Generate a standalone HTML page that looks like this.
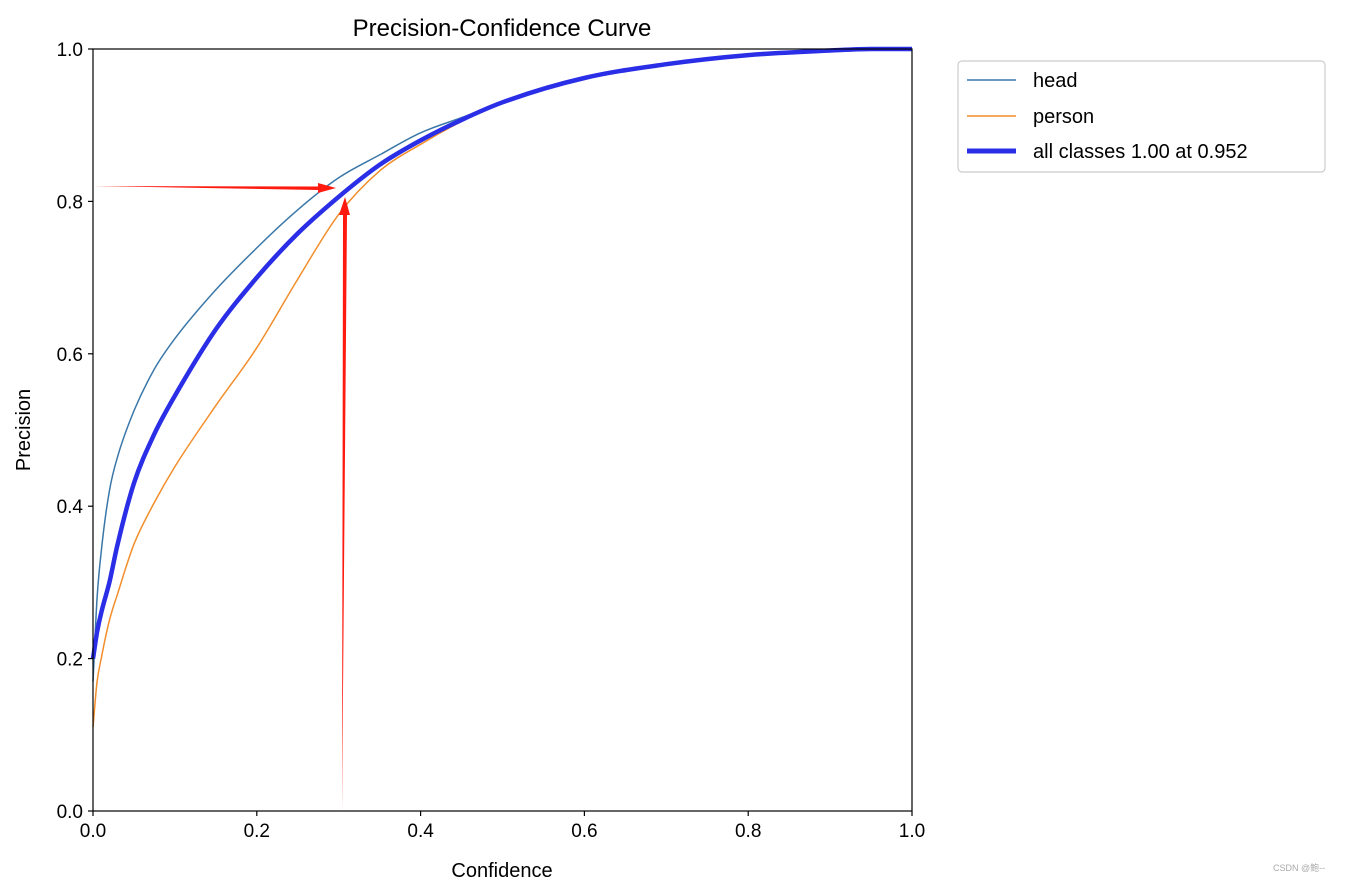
<!DOCTYPE html>
<html><head><meta charset="utf-8"><style>
body{margin:0;background:#fff;}
svg text{font-family:"Liberation Sans","DejaVu Sans",sans-serif;}
</style></head><body>
<svg width="1345" height="882" viewBox="0 0 1345 882" xmlns="http://www.w3.org/2000/svg">
<g id="plot"></g>
</svg>
<script>
const confidence=[0,0.005,0.01,0.02,0.03,0.05,0.075,0.1,0.15,0.2,0.25,0.3,0.35,0.4,0.45,0.5,0.6,0.7,0.8,0.9,0.95,1.0];
const headValues=[0.17,0.28,0.34,0.42,0.465,0.525,0.58,0.62,0.684,0.739,0.789,0.831,0.861,0.89,0.91,0.93,0.962,0.98,0.992,0.998,1.0,1.0];
const personValues=[0.11,0.17,0.2,0.25,0.285,0.35,0.405,0.452,0.532,0.608,0.698,0.783,0.84,0.875,0.905,0.93,0.962,0.98,0.992,0.998,1.0,1.0];
const allValues=[0.2,0.235,0.26,0.3,0.35,0.43,0.495,0.545,0.632,0.7,0.758,0.806,0.848,0.88,0.907,0.93,0.962,0.98,0.992,0.998,1.0,1.0];
const xTicks=[0,0.2,0.4,0.6,0.8,1.0];
const yTicks=[0,0.2,0.4,0.6,0.8,1.0];
const X0=93,X1=912,Y0=811,Y1=49;
const sx=v=>X0+v*(X1-X0), sy=v=>Y0-v*(Y0-Y1);
const NS="http://www.w3.org/2000/svg";
const g=document.getElementById('plot');
function mk(t,a,txt){const e=document.createElementNS(NS,t);for(const k in a)e.setAttribute(k,a[k]);if(txt!==undefined)e.textContent=txt;g.appendChild(e);return e;}
function smoothPath(xs,ys){
 const n=xs.length,d=[],m=new Array(n);
 for(let i=0;i<n-1;i++)d.push((ys[i+1]-ys[i])/(xs[i+1]-xs[i]));
 m[0]=d[0];m[n-1]=d[n-2];
 for(let i=1;i<n-1;i++){m[i]=(d[i-1]*d[i]<=0)?0:(d[i-1]+d[i])/2;}
 for(let i=0;i<n-1;i++){if(d[i]===0){m[i]=0;m[i+1]=0;continue;}const a=m[i]/d[i],b=m[i+1]/d[i],s=a*a+b*b;if(s>9){const t=3/Math.sqrt(s);m[i]=t*a*d[i];m[i+1]=t*b*d[i];}}
 let p='M'+xs[0].toFixed(1)+','+ys[0].toFixed(1);
 for(let i=0;i<n-1;i++){const h=(xs[i+1]-xs[i])/3;p+=' C'+(xs[i]+h).toFixed(1)+','+(ys[i]+m[i]*h).toFixed(1)+' '+(xs[i+1]-h).toFixed(1)+','+(ys[i+1]-m[i+1]*h).toFixed(1)+' '+xs[i+1].toFixed(1)+','+ys[i+1].toFixed(1);}
 return p;
}
function line(vals,color,w,name){
 const d=smoothPath(confidence.map(sx),vals.map(sy));
 const p=mk('path',{d:d,fill:'none',stroke:color,'stroke-width':w,'stroke-linejoin':'round'});
 
 
}
line(headValues,'#3a77a8',1.5,'head-line');
line(personValues,'#f28e2b',1.5,'person-line');
line(allValues,'#2a2ee6',4.5,'all-classes-line');
const a1=mk('polygon',{points:'93,186 318,186.5 318,183 336,188 318,193 318,190',fill:'#ff1a0f'});


const a2=mk('polygon',{points:'342,811 343,215 339,215 345,197 350,215 347,215',fill:'#ff1a0f'});


const fr=mk('rect',{x:X0,y:Y1,width:X1-X0,height:Y0-Y1,fill:'none',stroke:'#000','stroke-width':1.2});


xTicks.forEach(t=>{
 mk('line',{x1:sx(t),x2:sx(t),y1:Y0,y2:Y0+5,stroke:'#000','stroke-width':1.2});
 const tx=mk('text',{x:sx(t),y:Y0+26,'text-anchor':'middle','font-size':19},t.toFixed(1));
 
 
});
yTicks.forEach(t=>{
 mk('line',{x1:X0-5,x2:X0,y1:sy(t),y2:sy(t),stroke:'#000','stroke-width':1.2});
 const tx=mk('text',{x:X0-10,y:sy(t)+7,'text-anchor':'end','font-size':19},t.toFixed(1));
 
 
});
const ti=mk('text',{x:502,y:36,'text-anchor':'middle','font-size':24},'Precision-Confidence Curve');


const xl=mk('text',{x:502,y:877,'text-anchor':'middle','font-size':20},'Confidence');


const yl=mk('text',{x:30,y:430,'text-anchor':'middle','font-size':20,transform:'rotate(-90 30 430)'},'Precision');


const lb=mk('rect',{x:958,y:61,width:367,height:111,rx:4,fill:'#fff',stroke:'#ccc','stroke-width':1.2});


[['head','#3a77a8',1.5,80],['person','#f28e2b',1.5,116],['all classes 1.00 at 0.952','#2a2ee6',5,151]].forEach(([n,c,w,y])=>{
 mk('line',{x1:967,x2:1016,y1:y,y2:y,stroke:c,'stroke-width':w});
 const t=mk('text',{x:1033,y:y+7,'font-size':20},n);
 
 
});
const wm=mk('text',{x:1273,y:871,'font-size':9,fill:'#aaa'},'CSDN @鲍--');


</script>
</body></html>
